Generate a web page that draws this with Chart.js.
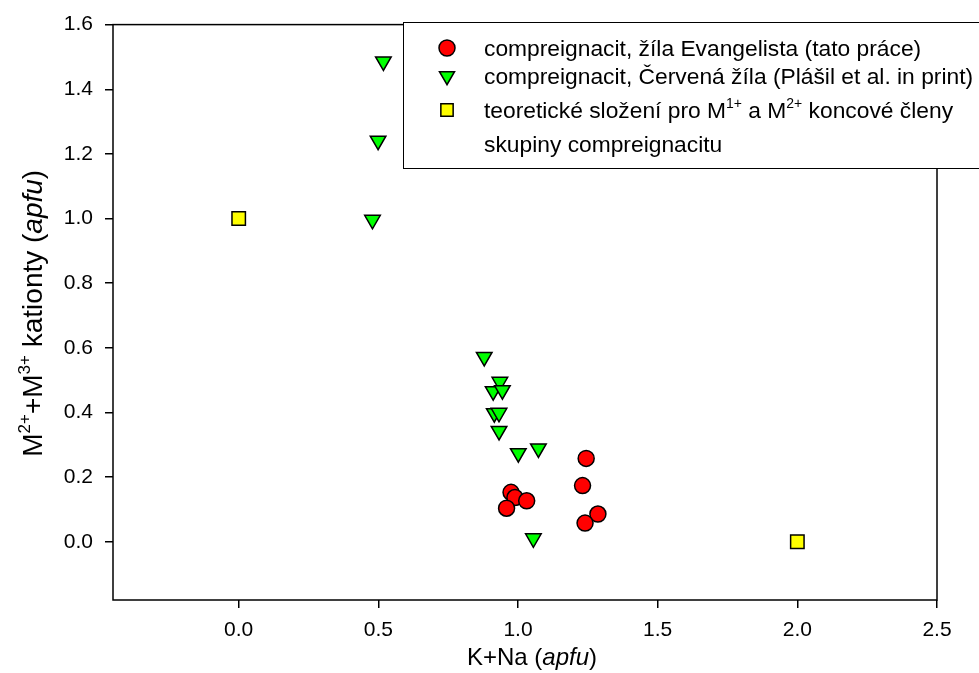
<!DOCTYPE html>
<html>
<head>
<meta charset="utf-8">
<title>compreignacit</title>
<script src="https://cdn.jsdelivr.net/npm/chart.js@4/dist/chart.umd.min.js"></script>
<style>
  html, body { margin: 0; padding: 0; background: #fff; }
  #wrap { width: 979px; height: 673px; position: relative; }
</style>
</head>
<body>
<div id="wrap"><canvas id="chart" width="979" height="673"></canvas></div>
<script>
// osa x / osa y
const xTicks = [0.0, 0.5, 1.0, 1.5, 2.0, 2.5];
const yTicks = [0.0, 0.2, 0.4, 0.6, 0.8, 1.0, 1.2, 1.4, 1.6];

// compreignacit, žíla Evangelista (tato práce)
const evangelistaX = [1.244, 1.231, 0.975, 0.989, 1.031, 0.959, 1.286, 1.240];
const evangelistaY = [0.258, 0.174, 0.153, 0.137, 0.127, 0.104, 0.086, 0.058];

// compreignacit, Červená žíla (Plášil et al. in print)
const cervenaX = [0.518, 0.499, 0.479, 0.879, 0.935, 0.911, 0.944, 0.915, 0.932, 0.932, 1.001, 1.073, 1.055];
const cervenaY = [1.486, 1.241, 0.996, 0.572, 0.495, 0.466, 0.469, 0.398, 0.399, 0.343, 0.274, 0.289, 0.011];

// teoretické složení koncových členů
const endMemberX = [0.0, 2.0];
const endMemberY = [1.0, 0.0];

const FONT = "'Liberation Sans', Arial, sans-serif";

function toPoints(xs, ys) {
  return xs.map((x, i) => ({ x: x, y: ys[i] }));
}

// text s horními indexy a kurzívou
function drawRich(ctx, parts, x, y, size) {
  let cx = x;
  parts.forEach((p) => {
    const fs = p.sup ? Math.round(size * 0.62) : size;
    ctx.font = (p.italic ? "italic " : "") + fs + "px " + FONT;
    ctx.fillText(p.t, cx, p.sup ? y - size * 0.42 : y);
    cx += ctx.measureText(p.t).width;
  });
  return cx - x;
}

function richWidth(ctx, parts, size) {
  let w = 0;
  parts.forEach((p) => {
    const fs = p.sup ? Math.round(size * 0.62) : size;
    ctx.font = (p.italic ? "italic " : "") + fs + "px " + FONT;
    w += ctx.measureText(p.t).width;
  });
  return w;
}

const yTitle = [
  { t: "M" }, { t: "2+", sup: true }, { t: "+M" }, { t: "3+", sup: true },
  { t: " kationty (" }, { t: "apfu", italic: true }, { t: ")" }
];
const xTitle = [{ t: "K+Na (" }, { t: "apfu", italic: true }, { t: ")" }];

const legendRows = [
  { marker: "circle", parts: [{ t: "compreignacit, žíla Evangelista (tato práce)" }] },
  { marker: "triangle", parts: [{ t: "compreignacit, Červená žíla (Plášil et al. in print)" }] },
  { marker: "rect", parts: [{ t: "teoretické složení pro M" }, { t: "1+", sup: true }, { t: " a M" }, { t: "2+", sup: true }, { t: " koncové členy" }] },
  { marker: null, parts: [{ t: "skupiny compreignacitu" }] }
];

const framePlugin = {
  id: "frame",
  beforeDatasetsDraw(chart) {
    const { ctx, chartArea: a } = chart;
    ctx.save();
    ctx.strokeStyle = "#000";
    ctx.lineWidth = 1.5;
    ctx.strokeRect(a.left, a.top, a.right - a.left, a.bottom - a.top);
    ctx.restore();
  },
  afterDraw(chart) {
    const { ctx, chartArea: a } = chart;
    ctx.save();
    ctx.fillStyle = "#000";
    ctx.textBaseline = "alphabetic";

    // název osy x
    const xs = 24;
    const xw = richWidth(ctx, xTitle, xs);
    drawRich(ctx, xTitle, (a.left + a.right) / 2 + 7 - xw / 2, 665, xs);

    // název osy y
    const ys = 28;
    const yw = richWidth(ctx, yTitle, ys);
    ctx.save();
    ctx.translate(42, (a.top + a.bottom) / 2 + 1);
    ctx.rotate(-Math.PI / 2);
    drawRich(ctx, yTitle, -yw / 2, 0, ys);
    ctx.restore();

    // legenda
    const bx = 403, by = 22, bw = 600, bh = 146;
    ctx.fillStyle = "#fff";
    ctx.fillRect(bx, by, bw, bh);
    ctx.strokeStyle = "#000";
    ctx.lineWidth = 1;
    ctx.strokeRect(bx + 0.5, by + 0.5, bw, bh);

    const rowY = [48, 76, 110, 144];
    const ds = chart.data.datasets;
    legendRows.forEach((row, i) => {
      const y = rowY[i];
      if (row.marker) {
        ctx.fillStyle = ds[i].backgroundColor;
        ctx.strokeStyle = "#000";
        ctx.lineWidth = 1.5;
        Chart.helpers.drawPoint(ctx, {
          pointStyle: row.marker,
          rotation: row.marker === "triangle" ? 180 : 0,
          radius: row.marker === "circle" ? 8 : row.marker === "triangle" ? 8.7 : 8.7,
          borderWidth: 1.5
        }, 447, y);
      }
      ctx.fillStyle = "#000";
      drawRich(ctx, row.parts, 484, y + 8, 22.8);
    });
    ctx.restore();
  }
};

const tickFont = { family: FONT, size: 21 };

new Chart(document.getElementById("chart").getContext("2d"), {
  type: "scatter",
  data: {
    datasets: [
      {
        label: "compreignacit, žíla Evangelista (tato práce)",
        data: toPoints(evangelistaX, evangelistaY),
        pointStyle: "circle",
        pointRadius: 8,
        backgroundColor: "#ff0000",
        borderColor: "#000",
        borderWidth: 1.5
      },
      {
        label: "compreignacit, Červená žíla (Plášil et al. in print)",
        data: toPoints(cervenaX, cervenaY),
        pointStyle: "triangle",
        rotation: 180,
        pointRadius: 9,
        backgroundColor: "#00ff00",
        borderColor: "#000",
        borderWidth: 1.5
      },
      {
        label: "teoretické složení pro M1+ a M2+ koncové členy skupiny compreignacitu",
        data: toPoints(endMemberX, endMemberY),
        pointStyle: "rect",
        pointRadius: 9.5,
        backgroundColor: "#ffff00",
        borderColor: "#000",
        borderWidth: 1.5
      }
    ]
  },
  options: {
    responsive: false,
    animation: false,
    layout: { padding: { top: 23, right: 42, left: 0, bottom: 0 } },
    plugins: {
      legend: { display: false },
      tooltip: { enabled: false }
    },
    scales: {
      x: {
        type: "linear",
        min: -0.45,
        max: 2.5,
        afterBuildTicks: (s) => { s.ticks = xTicks.map((v) => ({ value: v })); },
        afterFit: (s) => { s.height = 73; },
        border: { display: false },
        grid: { drawOnChartArea: false, drawTicks: true, tickLength: 8, color: "#000", lineWidth: 1.5 },
        ticks: { font: tickFont, color: "#000", padding: 10, maxRotation: 0, callback: (v) => v.toFixed(1) }
      },
      y: {
        type: "linear",
        min: -0.18,
        max: 1.6,
        afterBuildTicks: (s) => { s.ticks = yTicks.map((v) => ({ value: v })); },
        afterFit: (s) => { s.width = 113; },
        border: { display: false },
        grid: { drawOnChartArea: false, drawTicks: true, tickLength: 8, color: "#000", lineWidth: 1.5 },
        ticks: { font: tickFont, color: "#000", padding: 12, callback: (v) => v.toFixed(1) }
      }
    }
  },
  plugins: [framePlugin]
});
</script>
</body>
</html>
